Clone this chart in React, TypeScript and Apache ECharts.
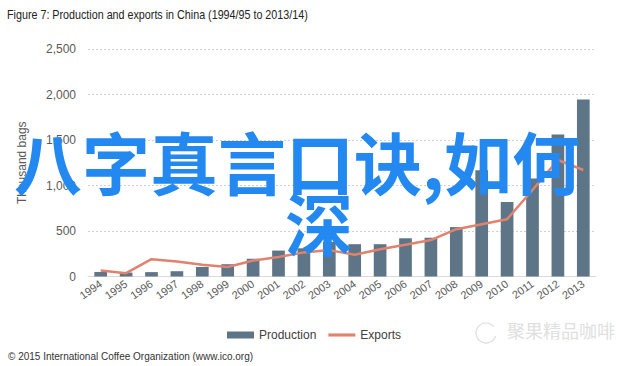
import React, { useEffect, useRef } from "react";
import * as echarts from "echarts";

const titleText = "Figure 7: Production and exports in China (1994/95 to 2013/14)";
const footerText = "© 2015 International Coffee Organization (www.ico.org)";
const yAxisName = "Thousand bags";
const categories = [
  "1994", "1995", "1996", "1997", "1998", "1999", "2000", "2001", "2002", "2003",
  "2004", "2005", "2006", "2007", "2008", "2009", "2010", "2011", "2012", "2013",
];
const production = [50, 43, 48, 58, 105, 135, 195, 285, 310, 380, 355, 355, 420, 426, 543, 1167, 818, 1076, 1560, 1946];
const exportsData = [65, 37, 190, 165, 128, 105, 175, 215, 265, 290, 240, 300, 350, 400, 520, 575, 630, 950, 1280, 1170];
const overlayLine1 = "八字真言口诀,如何";
const overlayLine2 = "深";
const badgeText = "聚果精品咖啡";

export default function App() {
  const ref = useRef<HTMLDivElement>(null);
  useEffect(() => {
    document.body.style.margin = "0";
    const chart = echarts.init(ref.current!, undefined, { renderer: "svg" });
    const axisFont = "'Liberation Sans', Arial, sans-serif";
    chart.setOption({
      animation: false,
      backgroundColor: "#ffffff",
      grid: { left: 88, right: 44, top: 49, bottom: 89.5 },
      legend: {
        top: 324,
        left: 222,
        itemGap: 12,
        itemWidth: 27,
        itemHeight: 7,
        textStyle: { fontSize: 12, color: "#404040", fontFamily: axisFont },
        data: [
          { name: "Production", icon: "rect" },
          { name: "Exports", icon: "path://M0,0 L26,0 L26,3 L0,3 Z" },
        ],
      },
      xAxis: {
        type: "category",
        data: categories,
        axisLine: { show: true, lineStyle: { color: "#d9d9d9", width: 1 } },
        axisTick: { show: false },
        axisLabel: { interval: 0, rotate: 35, fontSize: 11, color: "#595959", fontFamily: axisFont, margin: 6 },
      },
      yAxis: {
        type: "value",
        min: 0,
        max: 2500,
        interval: 500,
        name: yAxisName,
        nameLocation: "middle",
        nameRotate: 90,
        nameGap: 60,
        nameTextStyle: { fontSize: 12, color: "#595959", fontFamily: axisFont },
        axisLine: { show: false },
        axisTick: { show: false },
        axisLabel: {
          fontSize: 12,
          color: "#595959",
          fontFamily: axisFont,
          margin: 12,
          formatter: (v: number) => v.toLocaleString("en-US"),
        },
        splitLine: { show: true, lineStyle: { color: "#d0d0d0", type: [2, 2], width: 1 } },
      },
      series: [
        {
          name: "Production",
          type: "bar",
          data: production,
          barWidth: "50%",
          itemStyle: { color: "#5D7586" },
        },
        {
          name: "Exports",
          type: "line",
          data: exportsData,
          symbol: "none",
          lineStyle: { color: "#E0836E", width: 2.5 },
          itemStyle: { color: "#E0836E" },
        },
      ],
      graphic: [
        {
          type: "text",
          x: 7,
          y: 8,
          scaleX: 0.86,
          style: {
            text: titleText,
            fontSize: 12.5,
            fill: "#222222",
            fontFamily: axisFont,
            textVerticalAlign: "top",
          },
        },
        {
          type: "text",
          left: 8,
          top: 351,
          style: { text: footerText, fontSize: 10, fill: "#333333", fontFamily: axisFont },
        },
        {
          type: "arc",
          shape: { cx: 486, cy: 333, r: 10, startAngle: 0.3, endAngle: 5.6 },
          style: { fill: "none", stroke: "#dddddd", lineWidth: 1.2 },
        },
        {
          type: "text",
          left: 507,
          top: 321,
          style: { text: badgeText, fontSize: 18, fill: "#e0e0e0", fontFamily: "'Noto Sans CJK SC', sans-serif" },
        },
        {
          type: "text",
          left: 14,
          top: 126,
          z: 100,
          style: {
            text: overlayLine1,
            fontSize: 68,
            fontWeight: "bold",
            fill: "#2389F0",
            fontFamily: "'Noto Sans CJK SC', sans-serif",
          },
        },
        {
          type: "text",
          left: 285,
          top: 187,
          z: 100,
          style: {
            text: overlayLine2,
            fontSize: 68,
            fontWeight: "bold",
            fill: "#2389F0",
            fontFamily: "'Noto Sans CJK SC', sans-serif",
          },
        },
      ],
    });
    return () => chart.dispose();
  }, []);
  return <div ref={ref} style={{ width: 640, height: 366, position: "absolute", left: 0, top: 0 }} />;
}
